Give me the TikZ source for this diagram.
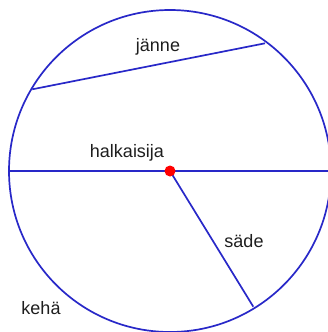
\documentclass[tikz,border=0pt]{standalone}
\usepackage{fontspec}
\setmainfont{Liberation Sans}
\definecolor{lineblue}{RGB}{40,40,200}
\definecolor{txt}{RGB}{30,30,30}
\begin{document}
\begin{tikzpicture}[x=1pt,y=-1pt,
  geo/.style={draw=lineblue,line width=1.7pt},
  lbl/.style={font=\fontsize{18}{21}\selectfont,text=txt,inner sep=0pt}]
\useasboundingbox (0,0) rectangle (328,332);
\clip (0,0) rectangle (328,332);
\coordinate (O) at (170,171);
\coordinate (D1) at (9,171);
\coordinate (D2) at (331,171);
\coordinate (C1) at (32.3,89.3);
\coordinate (C2) at (265,43.3);
\coordinate (R) at (253.3,306.7);
\draw[geo] (O) circle[radius=161];
\draw[geo] (D1) -- (D2);
\draw[geo] (C1) -- (C2);
\draw[geo] (O) -- (R);
\fill[red] (O) circle[radius=5.5];
\node[lbl] (janne) at (158,47) {jänne};
\node[lbl] (halk) at (127,153) {halkaisija};
\node[lbl] (sade) at (244,241) {säde};
\node[lbl] (keha) at (41,308) {kehä};
\end{tikzpicture}
\end{document}
